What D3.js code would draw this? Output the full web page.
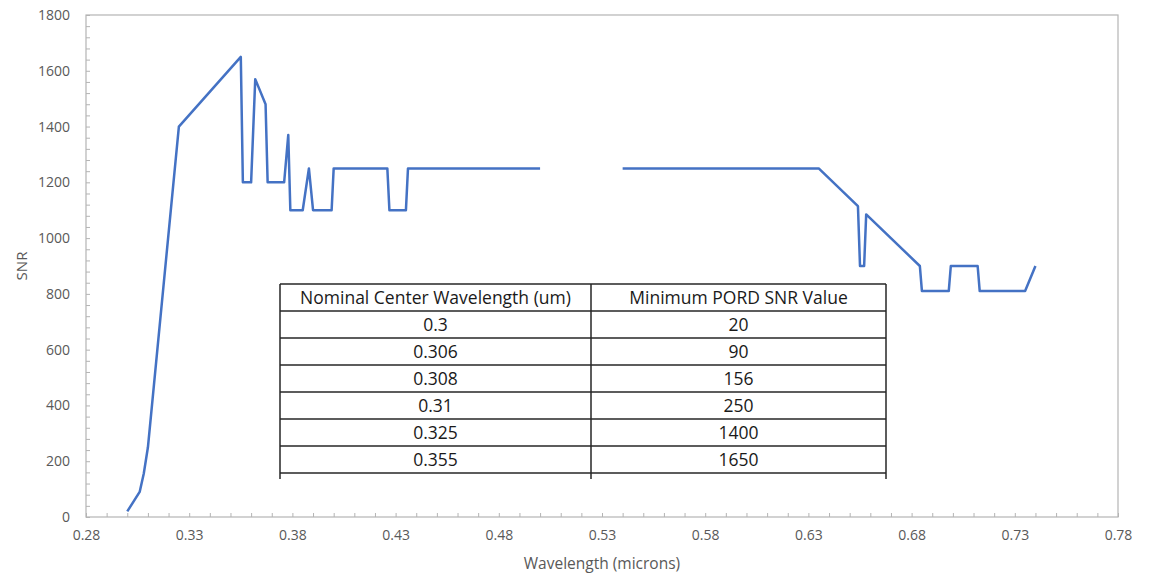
<!DOCTYPE html>
<html>
<head>
<meta charset="utf-8">
<script src="https://cdn.jsdelivr.net/npm/d3@7"></script>
<style>
  body { margin: 0; background: #fff; }
  svg text { font-family: "Open Sans", "Noto Sans", sans-serif; }
</style>
</head>
<body>
<div id="chart"></div>
<script>
// wavelength (microns) / SNR, null marks the gap in the curve
const wavelengths = [0.3, 0.306, 0.308, 0.31, 0.325, 0.355, 0.356, 0.36, 0.362, 0.367, 0.368, 0.376, 0.378, 0.379,
  0.385, 0.388, 0.39, 0.399, 0.4, 0.426, 0.427, 0.435, 0.436, 0.5, 0.52,
  0.54, 0.635, 0.654, 0.655, 0.657, 0.658, 0.684, 0.685, 0.698, 0.699, 0.712, 0.713, 0.735, 0.74];
const snrValues = [20, 90, 156, 250, 1400, 1650, 1200, 1200, 1570, 1480, 1200, 1200, 1370, 1100,
  1100, 1250, 1100, 1100, 1250, 1250, 1100, 1100, 1250, 1250, null,
  1250, 1250, 1115, 900, 900, 1085, 900, 810, 810, 900, 900, 810, 810, 900];

const xTicks = [0.28, 0.33, 0.38, 0.43, 0.48, 0.53, 0.58, 0.63, 0.68, 0.73, 0.78];
const yTicks = [0, 200, 400, 600, 800, 1000, 1200, 1400, 1600, 1800];

const tableHeader = ["Nominal Center Wavelength (um)", "Minimum PORD SNR Value"];
const tableWavelengths = ["0.3", "0.306", "0.308", "0.31", "0.325", "0.355"];
const tableSnr = ["20", "90", "156", "250", "1400", "1650"];

const width = 1149, height = 574;
const margin = { top: 15, right: 31, bottom: 57, left: 86 };
const innerW = width - margin.left - margin.right;
const innerH = height - margin.top - margin.bottom;

const svg = d3.select("#chart").append("svg")
  .attr("width", width)
  .attr("height", height);

const g = svg.append("g")
  .attr("transform", `translate(${margin.left},${margin.top})`);

const x = d3.scaleLinear().domain([0.28, 0.78]).range([0, innerW]);
const y = d3.scaleLinear().domain([0, 1800]).range([innerH, 0]);

const axisColor = "#b4b4b4";
const labelColor = "#595959";

// plot border
g.append("rect")
  .attr("width", innerW)
  .attr("height", innerH)
  .attr("fill", "none")
  .attr("stroke", axisColor)
  .attr("stroke-width", 1.2);

// minor ticks, pointing into the plot
const xMinor = d3.range(0, 51).map(i => 0.28 + i * 0.01);
g.append("g")
  .attr("transform", `translate(0,${innerH})`)
  .call(d3.axisTop(x).tickValues(xMinor).tickSize(4).tickFormat(""))
  .call(s => s.select(".domain").remove())
  .call(s => s.selectAll("line").attr("stroke", axisColor));

const yMinor = d3.range(0, 46).map(i => i * 40);
g.append("g")
  .call(d3.axisRight(y).tickValues(yMinor).tickSize(4).tickFormat(""))
  .call(s => s.select(".domain").remove())
  .call(s => s.selectAll("line").attr("stroke", axisColor));

// tick labels
const xAxis = g.append("g")
  .attr("transform", `translate(0,${innerH})`)
  .call(d3.axisBottom(x).tickValues(xTicks).tickSize(0).tickPadding(13).tickFormat(d3.format(".2f")));
xAxis.select(".domain").remove();
xAxis.selectAll("text").attr("fill", labelColor).style("font-size", "14px");

const yAxis = g.append("g")
  .call(d3.axisLeft(y).tickValues(yTicks).tickSize(0).tickPadding(16).tickFormat(d3.format("d")));
yAxis.select(".domain").remove();
yAxis.selectAll("text").attr("fill", labelColor).style("font-size", "14px");

// axis titles
svg.append("text")
  .attr("x", margin.left + innerW / 2)
  .attr("y", 569)
  .attr("text-anchor", "middle")
  .attr("fill", labelColor)
  .style("font-size", "15.5px")
  .text("Wavelength (microns)");

svg.append("text")
  .attr("transform", `translate(27,${margin.top + innerH / 2}) rotate(-90)`)
  .attr("text-anchor", "middle")
  .attr("fill", labelColor)
  .style("font-size", "15px")
  .text("SNR");

// the SNR curve
const points = wavelengths.map((w, i) => ({ w: w, snr: snrValues[i] }));
const line = d3.line()
  .defined(d => d.snr !== null)
  .x(d => x(d.w))
  .y(d => y(d.snr));

g.append("path")
  .datum(points)
  .attr("fill", "none")
  .attr("stroke", "#4472c4")
  .attr("stroke-width", 2.5)
  .attr("stroke-linejoin", "round")
  .attr("d", line);

// embedded table
const tbl = { left: 280, top: 284, colSplit: 591, right: 886, rowH: 27 };
const rows = [tableHeader].concat(tableWavelengths.map((w, i) => [w, tableSnr[i]]));
const tg = svg.append("g");
const tblBottom = tbl.top + rows.length * tbl.rowH;

tg.append("rect")
  .attr("x", tbl.left).attr("y", tbl.top)
  .attr("width", tbl.right - tbl.left).attr("height", tblBottom - tbl.top)
  .attr("fill", "#fff");

rows.forEach((r, i) => {
  const top = tbl.top + i * tbl.rowH;
  tg.append("line")
    .attr("x1", tbl.left).attr("x2", tbl.right)
    .attr("y1", top).attr("y2", top)
    .attr("stroke", "#262626").attr("stroke-width", 1.5);
  tg.append("text")
    .attr("x", (tbl.left + tbl.colSplit) / 2)
    .attr("y", top + tbl.rowH / 2 + 6)
    .attr("text-anchor", "middle")
    .attr("fill", "#1a1a1a")
    .style("font-size", "17.5px")
    .text(r[0]);
  tg.append("text")
    .attr("x", (tbl.colSplit + tbl.right) / 2)
    .attr("y", top + tbl.rowH / 2 + 6)
    .attr("text-anchor", "middle")
    .attr("fill", "#1a1a1a")
    .style("font-size", "17.5px")
    .text(r[1]);
});
tg.append("line")
  .attr("x1", tbl.left).attr("x2", tbl.right)
  .attr("y1", tblBottom).attr("y2", tblBottom)
  .attr("stroke", "#262626").attr("stroke-width", 1.5);

[tbl.left, tbl.colSplit, tbl.right].forEach(xv => {
  tg.append("line")
    .attr("x1", xv).attr("x2", xv)
    .attr("y1", tbl.top).attr("y2", tblBottom + 6)
    .attr("stroke", "#262626").attr("stroke-width", 1.5);
});
</script>
</body>
</html>
